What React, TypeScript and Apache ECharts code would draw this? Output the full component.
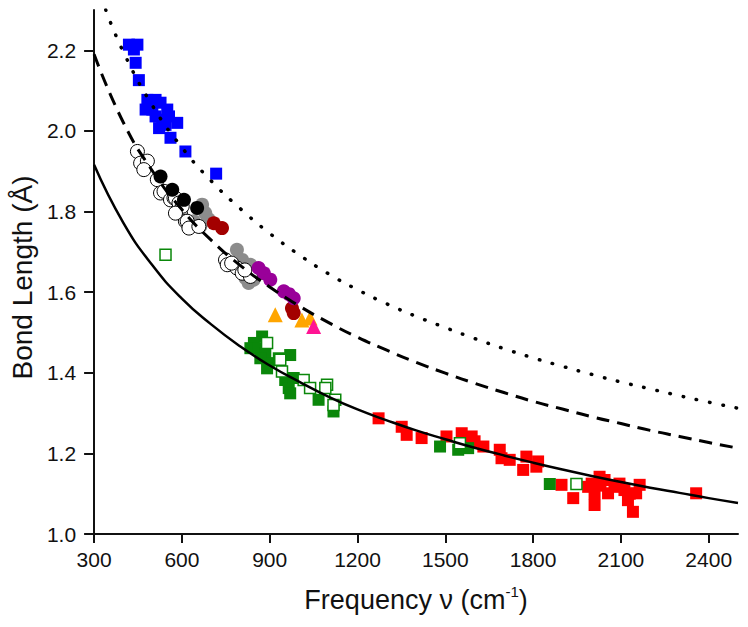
import React, { useEffect, useRef } from "react";
import * as echarts from "echarts";

// Tick settings
const xTicks = { min: 300, max: 2500, interval: 300 };
const yTicks = { min: 1.0, max: 2.3, interval: 0.2 };

// Fitted curves: [frequency, bond length]
const dottedCurve = [
  [340, 2.3], [400, 2.196], [500, 2.062], [600, 1.959], [700, 1.876], [800, 1.807],
  [900, 1.746], [1000, 1.693], [1100, 1.646], [1200, 1.606], [1300, 1.571], [1400, 1.540],
  [1500, 1.512], [1600, 1.485], [1700, 1.460], [1800, 1.437], [1900, 1.416], [2000, 1.396],
  [2100, 1.377], [2200, 1.360], [2300, 1.343], [2400, 1.327], [2500, 1.312],
];
const dashedCurve = [
  [300, 2.19], [400, 2.021], [500, 1.9], [600, 1.805], [700, 1.729], [800, 1.666],
  [900, 1.613], [1000, 1.566], [1100, 1.525], [1200, 1.488], [1300, 1.456], [1400, 1.426],
  [1500, 1.399], [1600, 1.374], [1700, 1.351], [1800, 1.329], [1900, 1.31], [2000, 1.291],
  [2100, 1.274], [2200, 1.257], [2300, 1.242], [2400, 1.227], [2500, 1.213],
];
const solidCurve = [
  [300, 1.916], [400, 1.772], [500, 1.666], [600, 1.584], [700, 1.52], [800, 1.465],
  [900, 1.418], [1000, 1.378], [1100, 1.341], [1200, 1.309], [1300, 1.282], [1400, 1.257],
  [1500, 1.235], [1600, 1.214], [1700, 1.195], [1800, 1.177], [1900, 1.16], [2000, 1.144],
  [2100, 1.129], [2200, 1.115], [2300, 1.102], [2400, 1.089], [2500, 1.077],
];

// Scatter groups
const blueSquares = [
  [419, 2.214], [448, 2.214], [436, 2.202], [442, 2.169], [453, 2.126], [482, 2.077],
  [510, 2.077], [527, 2.07], [476, 2.053], [499, 2.053], [550, 2.053], [510, 2.036],
  [556, 2.036], [584, 2.02], [522, 2.007], [544, 2.015], [561, 1.983], [612, 1.949],
  [717, 1.894], [489, 2.064], [533, 2.028],
];
const grayCircles = [
  [669, 1.817], [680, 1.796], [692, 1.78], [663, 1.763], [641, 1.776],
  [788, 1.705], [806, 1.68], [834, 1.668], [828, 1.623], [845, 1.631], [817, 1.635],
];
const openCircles = [
  [448, 1.949], [459, 1.92], [482, 1.925], [470, 1.904], [516, 1.879], [527, 1.846],
  [539, 1.85], [561, 1.829], [573, 1.834], [578, 1.833], [590, 1.821], [595, 1.796],
  [601, 1.813], [612, 1.776], [618, 1.776], [624, 1.759], [658, 1.763], [578, 1.796],
  [749, 1.68], [755, 1.668], [788, 1.66], [806, 1.647], [834, 1.639], [770, 1.672], [815, 1.655],
];
const blackCircles = [[527, 1.887], [567, 1.854], [607, 1.829], [652, 1.809]];
const darkRedCircles = [[709, 1.771], [737, 1.759], [976, 1.56], [982, 1.548]];
const purpleCircles = [[862, 1.66], [880, 1.647], [902, 1.631], [948, 1.602], [966, 1.595], [982, 1.585]];
const orangeTriangles = [[919, 1.544], [1010, 1.531], [1038, 1.536]];
const pinkTriangles = [[1050, 1.515]];
const redSquares = [
  [1272, 1.287], [1351, 1.266], [1368, 1.246], [1419, 1.238], [1504, 1.242], [1556, 1.25],
  [1590, 1.242], [1575, 1.235], [1600, 1.23], [1630, 1.217], [1686, 1.209], [1692, 1.188],
  [1720, 1.184], [1766, 1.159], [1777, 1.192], [1817, 1.18], [1811, 1.167], [1897, 1.122],
  [1937, 1.089], [1988, 1.117], [2000, 1.125], [2027, 1.142], [2030, 1.12], [2044, 1.134],
  [2010, 1.101], [2010, 1.072], [2056, 1.101], [2078, 1.117], [2095, 1.125], [2112, 1.109],
  [2124, 1.084], [2130, 1.1], [2141, 1.055], [2164, 1.122], [2152, 1.101], [2357, 1.101],
];
const greenFilledSquares = [
  [874, 1.49], [846, 1.474], [834, 1.461], [862, 1.461], [885, 1.449], [868, 1.436],
  [897, 1.424], [891, 1.411], [931, 1.436], [970, 1.444], [953, 1.382], [965, 1.362],
  [970, 1.349], [982, 1.387], [1067, 1.333], [1118, 1.304], [1482, 1.217], [1578, 1.213],
  [1544, 1.209], [1857, 1.124],
];
const greenOpenSquares = [
  [544, 1.693], [891, 1.474], [936, 1.432], [942, 1.403], [1016, 1.382], [1038, 1.362],
  [1096, 1.37], [1090, 1.362], [1124, 1.333], [1118, 1.32], [1550, 1.225], [1948, 1.124],
];

const FONT = "'Liberation Sans', Arial, Helvetica, sans-serif";

function scatter(name: string, data: number[][], symbol: string, size: number, fill: string, border: string, bw: number) {
  return {
    name,
    type: "scatter",
    data,
    symbol,
    symbolSize: size,
    itemStyle: { color: fill, borderColor: border, borderWidth: bw, opacity: 1 },
    z: 2,
  };
}

function curve(name: string, data: number[][], type: any, width: number, cap: string) {
  return {
    name,
    type: "line",
    data,
    smooth: 0.5,
    showSymbol: false,
    symbol: "none",
    lineStyle: { color: "#000", width, type, cap },
    z: 5,
  };
}

export default function App() {
  const ref = useRef<HTMLDivElement>(null);
  useEffect(() => {
    if (!ref.current) return;
    const chart = echarts.init(ref.current, null, { renderer: "svg" });
    chart.setOption({
      animation: false,
      backgroundColor: "#fff",
      textStyle: { fontFamily: FONT },
      grid: { left: 92, right: 10, top: 10, bottom: 93, containLabel: false },
      xAxis: {
        type: "value",
        min: xTicks.min,
        max: xTicks.max,
        interval: xTicks.interval,
        name: "{a|Frequency ν (cm}{b|-1}{a|)}",
        nameLocation: "middle",
        nameGap: 50,
        nameTextStyle: {
          rich: {
            a: { fontSize: 27, fontFamily: FONT, color: "#111", lineHeight: 32 },
            b: { fontSize: 15, fontFamily: FONT, color: "#111", verticalAlign: "top", lineHeight: 32, padding: [0, 0, 15, 0] },
          },
        },
        axisLine: { show: true, onZero: false, lineStyle: { color: "#111", width: 2 } },
        axisTick: { show: true, length: 9, lineStyle: { color: "#111", width: 2 } },
        axisLabel: {
          fontSize: 21,
          color: "#111",
          fontFamily: FONT,
          margin: 15,
          showMaxLabel: false,
          formatter: (v: number) => String(v),
        },
        splitLine: { show: false },
      },
      yAxis: {
        type: "value",
        min: yTicks.min,
        max: yTicks.max,
        interval: yTicks.interval,
        name: "Bond Length (Å)",
        nameLocation: "middle",
        nameGap: 52,
        nameTextStyle: { fontSize: 28, fontFamily: FONT, color: "#111", padding: [0, 11, 0, 0] },
        axisLine: { show: true, onZero: false, lineStyle: { color: "#111", width: 2 } },
        axisTick: { show: true, length: 10, lineStyle: { color: "#111", width: 2 } },
        axisLabel: {
          fontSize: 21,
          color: "#111",
          fontFamily: FONT,
          margin: 18,
          showMaxLabel: false,
          formatter: (v: number) => v.toFixed(1),
        },
        splitLine: { show: false },
      },
      series: [
        scatter("blue", blueSquares, "rect", 12, "#0000ff", "#0000ff", 0),
        scatter("gray", grayCircles, "circle", 14, "#8c8c8c", "#8c8c8c", 0),
        scatter("open circles", openCircles, "circle", 14, "#ffffff", "#000000", 1),
        scatter("black", blackCircles, "circle", 14, "#000000", "#000000", 0),
        scatter("dark red", darkRedCircles, "circle", 14, "#a30000", "#a30000", 0),
        scatter("purple", purpleCircles, "circle", 14, "#990099", "#990099", 0),
        scatter("orange", orangeTriangles, "triangle", 15, "#ffa500", "#ffa500", 0),
        scatter("pink", pinkTriangles, "triangle", 15, "#ff1493", "#ff1493", 0),
        scatter("red", redSquares, "rect", 12, "#ff0000", "#ff0000", 0),
        scatter("green", greenFilledSquares, "rect", 12, "#0a870a", "#0a870a", 0),
        scatter("green open", greenOpenSquares, "rect", 11, "#ffffff", "#0a870a", 1.5),
        curve("dotted", dottedCurve, [0.5, 13], 3.5, "round"),
        curve("dashed", dashedCurve, [13, 8], 3, "butt"),
        curve("solid", solidCurve, "solid", 2.5, "butt"),
      ],
    });
    return () => chart.dispose();
  }, []);
  return (
    <div
      ref={ref}
      style={{ position: "fixed", left: 0, top: 0, width: 748, height: 627, background: "#fff" }}
    />
  );
}
